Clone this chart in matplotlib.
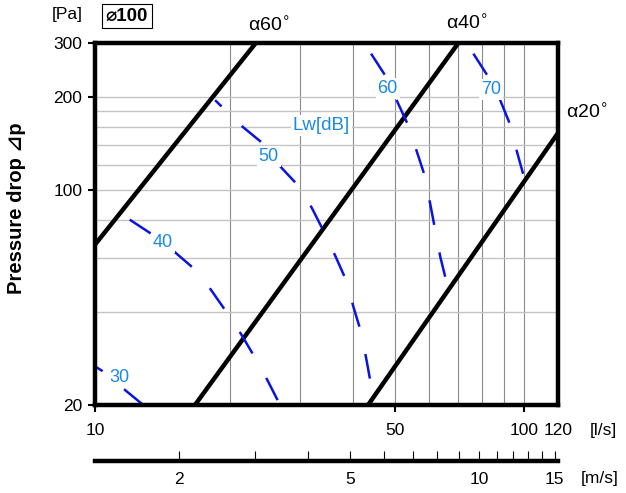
import numpy as np
import matplotlib
matplotlib.use('Agg')
import matplotlib.pyplot as plt
import matplotlib.transforms as mtransforms
from matplotlib.ticker import NullLocator, FixedLocator, FixedFormatter

plt.rcParams['font.family'] = ['Liberation Sans', 'DejaVu Sans']

# axis ticks
q_ticks = [10, 50, 100, 120]
dp_ticks = [20, 100, 200, 300]
v_ticks = [2, 3, 4, 5, 6, 7, 8, 9, 10, 11, 12, 13, 14, 15]
v_labels = ['2', '', '', '5', '', '', '', '', '10', '', '', '', '', '15']

# grid lines
grid_q = [20.6, 30, 40, 50, 60, 70, 80, 90, 100]
grid_dp = [40, 60, 80, 100, 120, 140, 160, 180, 200]

# damper curves (alpha)
alpha_names = ['60', '40', '20']
alpha_q = [[10, 23.7], [17.1, 70.3], [43.3, 120]]
alpha_dp = [[66.4, 300], [20, 300], [20, 153]]

# sound power curves Lw [dB]
lw30_q = [10, 10.4, 11.6, 12.9]
lw30_dp = [26.7, 25.8, 22.7, 20.1]
lw40_q = [12.05, 13.4, 15.3, 16.9, 18.6, 20.2, 21.9, 23.5, 25.3, 27.0]
lw40_dp = [80, 72.6, 63.0, 55.9, 47.5, 40.3, 34.0, 28.8, 23.9, 20]
lw50_q = [19.05, 22.0, 24.4, 27.2, 29.5, 32.0, 33.7, 36.3, 38.5, 40.0, 41.7, 42.9, 44.0, 44.7]
lw50_dp = [195.6, 161, 143, 118, 104.6, 87.5, 75.9, 61.1, 50.8, 41.8, 34.5, 28.2, 23.2, 20]
lw60_q = [44.0, 47.5, 50.6, 53.6, 56.2, 58.7, 60.4, 61.9, 63.8, 66.0]
lw60_dp = [277, 235, 194, 163, 133.7, 111, 90.5, 75.6, 60.6, 50.0]
lw70_q = [76.2, 82.2, 88.0, 92.8, 96.3, 100]
lw70_dp = [277, 235, 195.6, 163, 132.8, 110]

lw_labels = ['30', '40', '50', '60', '70']
lw_label_q = [11.4, 14.4, 25.4, 48.1, 83.7]
lw_label_dp = [24.6, 67.4, 128.5, 213, 212]

duct_d = 0.1  # m


def to_ms(q):
    return np.asarray(q) / 1000.0 / (np.pi * (duct_d / 2) ** 2)


def to_ls(v):
    return np.asarray(v) * (np.pi * (duct_d / 2) ** 2) * 1000.0


W, H = 626, 493
fig = plt.figure(figsize=(W / 100, H / 100), dpi=100)
ax = fig.add_axes([95 / W, 1 - 405 / H, (558 - 95) / W, (405 - 43) / H])
ax.set_xscale('log')
ax.set_yscale('log')
ax.set_xlim(10, 120)
ax.set_ylim(20, 300)

for v in grid_q:
    ax.axvline(v, color='#8a8a8a', lw=0.8, zorder=0)
for h in grid_dp:
    ax.axhline(h, color='#c4c4c4', lw=1.0, zorder=0)

for q, dp in zip(alpha_q, alpha_dp):
    ax.plot(q, dp, color='black', lw=3.2, solid_capstyle='butt', zorder=3)

blue = '#0a14e0'
dash = (10.0, 11.2)
curves = [(lw30_q, lw30_dp, 6.4), (lw40_q, lw40_dp, 0), (lw50_q, lw50_dp, 6.4),
          (lw60_q, lw60_dp, 0), (lw70_q, lw70_dp, 0)]
for q, dp, off in curves:
    ax.plot(q, dp, color=blue, lw=1.8, ls=(off, dash), zorder=4)

label_blue = '#1a8ae6'
for txt, q, dp in zip(lw_labels, lw_label_q, lw_label_dp):
    ax.text(q, dp, txt, color=label_blue, fontsize=13, ha='center', va='center', zorder=5,
            bbox=dict(boxstyle='square,pad=0.1', fc='white', ec='none'))
ax.text(33.7, 162, 'Lw[dB]', color=label_blue, fontsize=13.5, ha='center', va='center', zorder=5,
        bbox=dict(boxstyle='square,pad=0.1', fc='white', ec='none'))

# alpha labels
top = mtransforms.blended_transform_factory(ax.transData, ax.transAxes)
right = mtransforms.blended_transform_factory(ax.transAxes, ax.transData)
ax.text(25.4, 1.047, 'α60$^{\\circ}$', transform=top, fontsize=14, ha='center', va='center')
ax.text(73.7, 1.052, 'α40$^{\\circ}$', transform=top, fontsize=14, ha='center', va='center')
ax.text(1.062, 178, 'α20$^{\\circ}$', transform=right, fontsize=14, ha='center', va='center')

for s in ax.spines.values():
    s.set_linewidth(3.2)
    s.set_zorder(6)

ax.xaxis.set_minor_locator(NullLocator())
ax.yaxis.set_minor_locator(NullLocator())
ax.set_xticks(q_ticks)
ax.set_xticklabels([str(t) for t in q_ticks])
ax.set_yticks(dp_ticks)
ax.set_yticklabels([str(t) for t in dp_ticks])
ax.tick_params(axis='x', direction='out', length=5, width=1.5, pad=8, labelsize=12.5)
ax.tick_params(axis='y', direction='out', length=5, width=1.5, pad=4, labelsize=12.5)
ax.xaxis.get_major_ticks()[3].tick1line.set_visible(False)

# velocity axis
sec = ax.secondary_xaxis(-0.155, functions=(to_ms, to_ls))
sec.xaxis.set_major_locator(FixedLocator(v_ticks))
sec.xaxis.set_major_formatter(FixedFormatter(v_labels))
sec.xaxis.set_minor_locator(NullLocator())
sec.tick_params(axis='x', direction='in', length=7, width=0.8, pad=8, labelsize=12.5)
sec.spines['bottom'].set_linewidth(3.2)

fig.text(603 / W, 1 - 430 / H, '[l/s]', fontsize=12.5, ha='center', va='center')
fig.text(600 / W, 1 - 479 / H, '[m/s]', fontsize=12.5, ha='center', va='center')
fig.text(67 / W, 1 - 15 / H, '[Pa]', fontsize=12.5, ha='center', va='center')
fig.text(127 / W, 1 - 16 / H, '⌀100', fontsize=13.5, fontweight='bold', ha='center', va='center',
         bbox=dict(boxstyle='square,pad=0.2', fc='white', ec='black', lw=0.8))
fig.text(17 / W, 1 - 208 / H, 'Pressure drop ⊿p', fontsize=14.5, fontweight='bold',
         rotation=90, ha='center', va='center')

fig.savefig('out.png', dpi=100)
